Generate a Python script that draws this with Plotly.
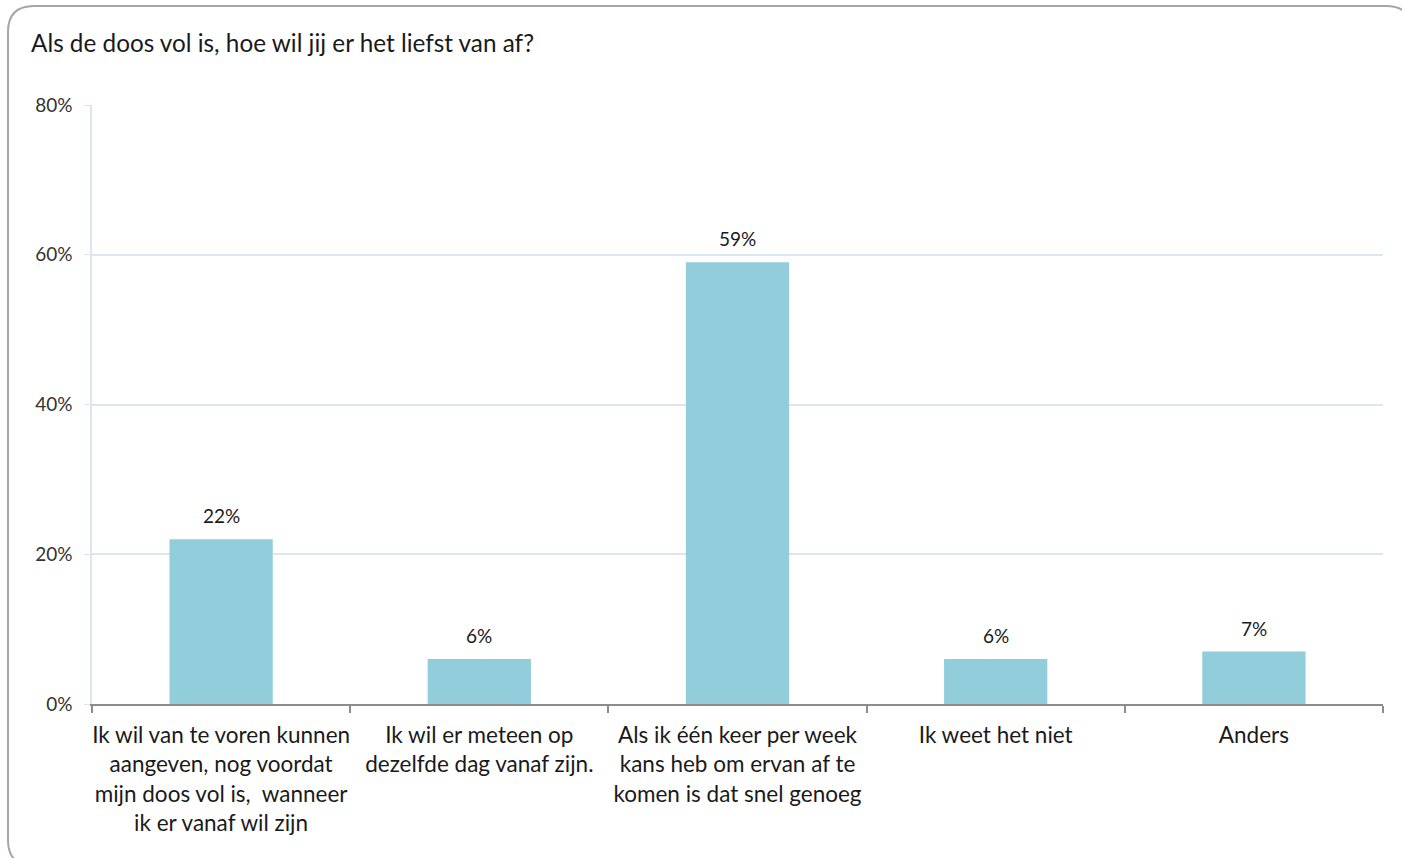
import plotly.graph_objects as go

categories = [
    "Ik wil van te voren kunnen<br>aangeven, nog voordat<br>mijn doos vol is,  wanneer<br>ik er vanaf wil zijn",
    "Ik wil er meteen op<br>dezelfde dag vanaf zijn.",
    "Als ik één keer per week<br>kans heb om ervan af te<br>komen is dat snel genoeg",
    "Ik weet het niet",
    "Anders",
]
values = [22, 6, 59, 6, 7]
value_labels = ["22%", "6%", "59%", "6%", "7%"]
title_text = "Als de doos vol is, hoe wil jij er het liefst van af?"

W, H = 1402, 858
L, R, T, B = 92, 19, 105, 154
PW, PH = W - L - R, H - T - B

def px(x):
    return (x - L) / PW

def py(y):
    return (H - B - y) / PH

FONT = "Lato, Noto Sans, sans-serif"
TXT = "#1a1a1a"

fig = go.Figure()
fig.add_trace(go.Bar(
    x=categories, y=values,
    marker=dict(color="#92CDDC", line=dict(width=0)),
    width=0.4, hoverinfo="skip",
))

annotations = [dict(text=title_text, x=px(29), y=py(43), xref="paper", yref="paper",
                    xanchor="left", yanchor="middle", showarrow=False,
                    font=dict(size=24.3, color=TXT, family=FONT))]
for c, v, lab in zip(categories, values, value_labels):
    annotations.append(dict(x=c, y=v, text=lab, xref="x", yref="y", showarrow=False,
                            yanchor="bottom", yshift=10,
                            font=dict(size=19, color=TXT, family=FONT)))

# rounded border
x0, y0, x1, y1, r = 8, 6, 1412, 866, 26
path = (f"M {px(x0+r)},{py(y0)} L {px(x1-r)},{py(y0)} Q {px(x1)},{py(y0)} {px(x1)},{py(y0+r)} "
        f"L {px(x1)},{py(y1-r)} Q {px(x1)},{py(y1)} {px(x1-r)},{py(y1)} "
        f"L {px(x0+r)},{py(y1)} Q {px(x0)},{py(y1)} {px(x0)},{py(y1-r)} "
        f"L {px(x0)},{py(y0+r)} Q {px(x0)},{py(y0)} {px(x0+r)},{py(y0)} Z")

fig.update_layout(
    width=W, height=H,
    margin=dict(l=L, r=R, t=T, b=B),
    paper_bgcolor="white", plot_bgcolor="white",
    showlegend=False,
    font=dict(family=FONT, color=TXT),
    shapes=[dict(type="path", path=path, xref="paper", yref="paper",
                 line=dict(color="#A6A6A6", width=2), fillcolor="rgba(0,0,0,0)", layer="below")],
    annotations=annotations,
)
fig.update_yaxes(
    range=[0, 80], dtick=20, ticksuffix="%",
    showgrid=True, gridcolor="#DCE6F0", gridwidth=1.5,
    showline=True, linecolor="#DCE6F0", linewidth=1.5,
    ticks="outside", ticklen=6, tickcolor="#DCE6F0",
    tickfont=dict(size=19, color="#333333", family=FONT),
    ticklabelstandoff=8, zeroline=False,
)
fig.update_xaxes(
    showline=True, linecolor="#8C8C8C", linewidth=2,
    ticks="outside", ticklen=7, tickcolor="#8C8C8C", tickwidth=1.5,
    tickson="boundaries",
    tickfont=dict(size=22.5, color=TXT, family=FONT),
    tickangle=0, ticklabelstandoff=10,
)

fig.write_html("out.html", config={"displayModeBar": False},
               post_script="document.body.style.margin='0';")
